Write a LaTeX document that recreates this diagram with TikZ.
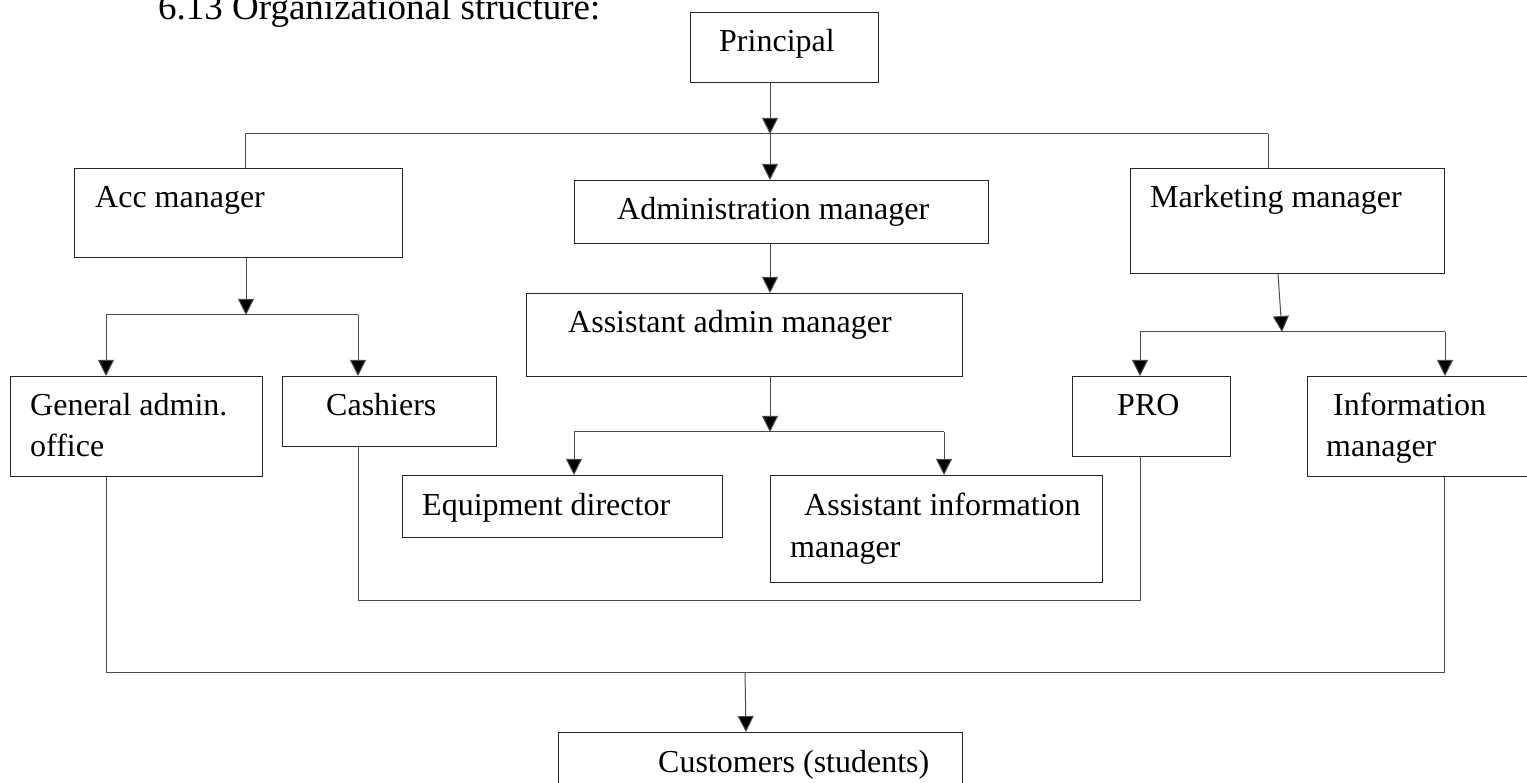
\documentclass[tikz,border=0pt]{standalone}
\usepackage{fontspec}
\setmainfont{Liberation Serif}
\usetikzlibrary{arrows.meta}
\begin{document}
\begin{tikzpicture}[x=1pt,y=-1pt,
  box/.style={draw=black!85, line width=1.2pt, inner sep=0pt, anchor=north west},
  txt/.style={anchor=base west, inner sep=0pt, font=\fontsize{32}{36}\selectfont},
  ln/.style={draw=black!70, line width=1pt},
  arr/.style={ln, -{Triangle[length=16pt,width=16pt,fill=black]}}]
\useasboundingbox (0,0) rectangle (1527,783);
\clip (0,0) rectangle (1527,783);
% title
\node[anchor=base west, inner sep=0pt, font=\fontsize{37}{40}\selectfont] (title) at (158,20) {6.13 Organizational structure:};
% boxes
\node[box, minimum width=188pt, minimum height=70pt] (principal) at (690,12) {};
\node[box, minimum width=328pt, minimum height=89pt] (acc) at (74,168) {};
\node[box, minimum width=414pt, minimum height=63pt] (admin) at (574,180) {};
\node[box, minimum width=314pt, minimum height=105pt] (mkt) at (1130,168) {};
\node[box, minimum width=436pt, minimum height=83pt] (asst) at (526,293) {};
\node[box, minimum width=252pt, minimum height=100pt] (gen) at (10,376) {};
\node[box, minimum width=214pt, minimum height=70pt] (cash) at (282,376) {};
\node[box, minimum width=158pt, minimum height=80pt] (pro) at (1072,376) {};
\node[box, minimum width=230pt, minimum height=100pt] (info) at (1307,376) {};
\node[box, minimum width=320pt, minimum height=62pt] (equip) at (402,475) {};
\node[box, minimum width=332pt, minimum height=107pt] (asstinfo) at (770,475) {};
\node[box, minimum width=404pt, minimum height=90pt] (cust) at (558,732) {};
% texts
\node[txt] (tprincipal) at (719,52) {Principal};
\node[txt] (tacc) at (95,208) {Acc manager};
\node[txt] (tadmin) at (617,220) {Administration manager};
\node[txt] (tmkt) at (1150,208) {Marketing manager};
\node[txt] (tasst) at (568,333) {Assistant admin manager};
\node[txt] (tgen1) at (30,416) {General admin.};
\node[txt] (tgen2) at (30,457) {office};
\node[txt] (tcash) at (326,416) {Cashiers};
\node[txt] (tpro) at (1117,416) {PRO};
\node[txt] (tinfo1) at (1333,416) {Information};
\node[txt] (tinfo2) at (1326,457) {manager};
\node[txt] (tequip) at (422,515) {Equipment director};
\node[txt] (tasstinfo1) at (804,515) {Assistant information};
\node[txt] (tasstinfo2) at (790,557) {manager};
\node[txt] (tcust) at (658,772) {Customers (students)};
% junctions
\coordinate (j1) at (770,134);
\coordinate (jL) at (245,134);
\coordinate (jR) at (1268,134);
\coordinate (j2) at (246,315);
\coordinate (j2l) at (106,315);
\coordinate (j2r) at (358,315);
\coordinate (j3) at (770,432);
\coordinate (j3l) at (574,432);
\coordinate (j3r) at (944,432);
\coordinate (j4) at (1282,332);
\coordinate (j4l) at (1140,332);
\coordinate (j4r) at (1445,332);
\coordinate (k1l) at (358,600);
\coordinate (k1r) at (1140,600);
\coordinate (k2l) at (106,672);
\coordinate (k2r) at (1444,672);
\coordinate (k2m) at (745,672);
% connectors
\draw[arr] (j1 |- principal.south) -- (j1);
\draw[ln] (jL) -- (jR);
\draw[ln] (jL) -- (jL |- acc.north);
\draw[ln] (jR) -- (jR |- mkt.north);
\draw[arr] (j1) -- (j1 |- admin.north);
\draw[arr] (j2 |- acc.south) -- (j2);
\draw[ln] (j2l) -- (j2r);
\draw[arr] (j2l) -- (j2l |- gen.north);
\draw[arr] (j2r) -- (j2r |- cash.north);
\draw[arr] (j1 |- admin.south) -- (j1 |- asst.north);
\draw[arr] (j3 |- asst.south) -- (j3);
\draw[ln] (j3l) -- (j3r);
\draw[arr] (j3l) -- (j3l |- equip.north);
\draw[arr] (j3r) -- (j3r |- asstinfo.north);
\draw[arr] ([xshift=-4pt]j4 |- mkt.south) -- (j4);
\draw[ln] (j4l) -- (j4r);
\draw[arr] (j4l) -- (j4l |- pro.north);
\draw[arr] (j4r) -- (j4r |- info.north);
\draw[ln] (k1l |- cash.south) -- (k1l) -- (k1r) -- (k1r |- pro.south);
\draw[ln] (k2l |- gen.south) -- (k2l) -- (k2r) -- (k2r |- info.south);
\draw[arr] (k2m) -- ([xshift=1pt]k2m |- cust.north);
\end{tikzpicture}
\end{document}
